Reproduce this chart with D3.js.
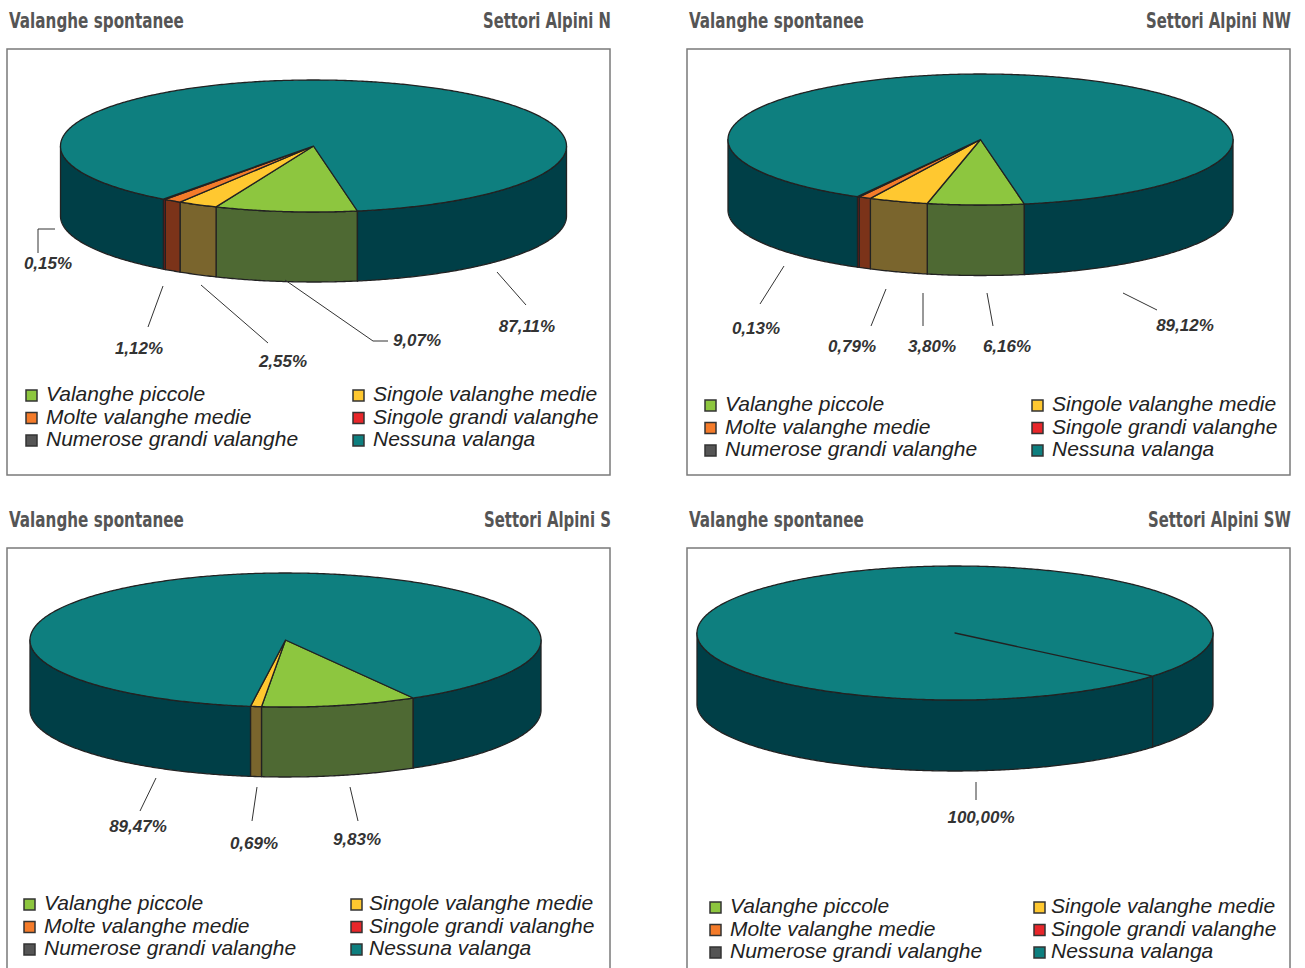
<!DOCTYPE html>
<html>
<head>
<meta charset="utf-8">
<script src="https://cdn.jsdelivr.net/npm/d3@7"></script>
<style>
  body { margin: 0; background: #fff; }
  svg { display: block; }
</style>
</head>
<body>
<svg id="chart"></svg>
<script>
// categories in the legend order of the original (row-major, 2 columns)
const categories = [
  "Valanghe piccole",
  "Singole valanghe medie",
  "Molte valanghe medie",
  "Singole grandi valanghe",
  "Numerose grandi valanghe",
  "Nessuna valanga",
];
const sectors = ["Settori Alpini N", "Settori Alpini NW", "Settori Alpini S", "Settori Alpini SW"];
const mainTitle = "Valanghe spontanee";

// percentages per sector, same order as categories
const valuesN = [9.07, 2.55, 1.12, 0.15, 0, 87.11];
const valuesNW = [6.16, 3.8, 0.79, 0.13, 0, 89.12];
const valuesS = [9.83, 0.69, 0, 0, 0, 89.47];
const valuesSW = [0, 0, 0, 0, 0, 100];

const topColors = ["#8dc63f", "#ffc830", "#f47b2a", "#e8262a", "#555555", "#0e7f7f"];
const sideColors = ["#4e6933", "#7a652d", "#7b3319", "#7a1a17", "#333333", "#003f47"];

const W = 1305, H = 968;
const svg = d3.select("#chart").attr("width", W).attr("height", H);
svg.append("rect").attr("width", W).attr("height", H).attr("fill", "#fff");

// layout of every panel (positions relative to the panel box)
const panels = [
  {
    values: valuesN, x: 7, y: 49, h: 426, titleW: 128,
    pie: { cx: 306.5, cy: 97, rx: 253, ry: 66, depth: 70, start: 170 },
    legend: { sx: [19, 346], tx: [39, 366], rows: [352, 374.5, 397] },
    labels: [
      { cat: 3, pts: [[48, 180], [31, 180], [31, 204]], tx: 41, ty: 220 },
      { cat: 2, pts: [[156, 237], [141, 278]], tx: 132, ty: 305 },
      { cat: 1, pts: [[194, 236], [261, 294]], tx: 276, ty: 318 },
      { cat: 0, pts: [[278, 231], [366, 292], [381, 292]], tx: 410, ty: 297 },
      { cat: 5, pts: [[490, 223], [519, 256]], tx: 520, ty: 283 },
    ],
  },
  {
    values: valuesNW, x: 687, y: 49, h: 426, titleW: 145,
    pie: { cx: 293.5, cy: 90.5, rx: 252.5, ry: 65.5, depth: 70.5, start: 170 },
    legend: { sx: [18, 345], tx: [38, 365], rows: [362, 384.5, 407] },
    labels: [
      { cat: 3, pts: [[97, 217], [73, 255]], tx: 69, ty: 285 },
      { cat: 2, pts: [[199, 240], [184, 277]], tx: 165, ty: 303 },
      { cat: 1, pts: [[236, 244], [236, 277]], tx: 245, ty: 303 },
      { cat: 0, pts: [[300, 244], [306, 277]], tx: 320, ty: 303 },
      { cat: 5, pts: [[436, 244], [470, 261]], tx: 498, ty: 282 },
    ],
  },
  {
    values: valuesS, x: 7, y: 548, h: 430, titleW: 127,
    pie: { cx: 278.5, cy: 92, rx: 255.5, ry: 67, depth: 70, start: 150 },
    legend: { sx: [17, 344], tx: [37, 362], rows: [362, 384.5, 407] },
    labels: [
      { cat: 5, pts: [[149, 230], [133, 263]], tx: 131, ty: 284 },
      { cat: 1, pts: [[250, 239], [245, 273]], tx: 247, ty: 301 },
      { cat: 0, pts: [[343, 239], [351, 273]], tx: 350, ty: 297 },
    ],
  },
  {
    values: valuesSW, x: 687, y: 548, h: 430, titleW: 143,
    pie: { cx: 268, cy: 85, rx: 258, ry: 67, depth: 71, start: 130 },
    legend: { sx: [23, 347], tx: [43, 364], rows: [365, 387.5, 410] },
    labels: [
      { cat: 5, pts: [[289, 234], [289, 252]], tx: 294, ty: 275 },
    ],
  },
];

const fmt = (v) => d3.format(".2f")(v).replace(".", ",") + "%";
const line = d3.line();
const rad = Math.PI / 180;
const headFont = "'DejaVu Sans Condensed', 'DejaVu Sans', sans-serif";

// condensed heading: measured, then squeezed horizontally to the wanted width
function heading(x, y, str, width, anchorEnd) {
  const t = svg.append("text")
    .attr("font-family", headFont).style("font-stretch", "condensed")
    .attr("font-weight", "bold").attr("font-size", 22)
    .attr("fill", "#555").text(str);
  const len = t.node().getComputedTextLength();
  const sx = width / len;
  const left = anchorEnd ? x - width : x;
  t.attr("transform", `translate(${left},${y}) scale(${sx},1)`);
}

panels.forEach((p, i) => {
  heading(p.x + 2, p.y - 21, mainTitle, 175, false);
  heading(p.x + 604, p.y - 21, sectors[i], p.titleW, true);

  const g = svg.append("g").attr("transform", `translate(${p.x},${p.y})`);
  g.append("rect")
    .attr("width", 603).attr("height", p.h)
    .attr("fill", "none").attr("stroke", "#7a7a7a").attr("stroke-width", 1.5);

  // 3D pie
  const c = p.pie;
  const a0 = c.start * rad;
  const arcs = d3.pie().sort(null).startAngle(a0).endAngle(a0 + 2 * Math.PI)(p.values)
    .map((d, k) => ({ ...d, k }))
    .filter((d) => d.value > 0);
  const pt = (a, dy = 0) => [c.cx + c.rx * Math.sin(a), c.cy - c.ry * Math.cos(a) + dy];
  const ring = (b0, b1, dy) => {
    const n = Math.max(2, Math.ceil((b1 - b0) / (0.5 * rad)) + 1);
    return d3.range(n).map((j) => pt(b0 + ((b1 - b0) * j) / (n - 1), dy));
  };

  // front walls: visible part of each slice where the rim faces the viewer
  const walls = [];
  arcs.forEach((d) => {
    [0, 1, -1].forEach((m) => {
      const lo = Math.PI / 2 + m * 2 * Math.PI, hi = 1.5 * Math.PI + m * 2 * Math.PI;
      const b0 = Math.max(d.startAngle, lo), b1 = Math.min(d.endAngle, hi);
      if (b1 > b0) walls.push({ k: d.k, b0, b1 });
    });
  });
  g.selectAll("path.wall").data(walls).enter().append("path")
    .attr("class", "wall")
    .attr("d", (w) => line(ring(w.b0, w.b1, 0).concat(ring(w.b0, w.b1, c.depth).reverse())) + "Z")
    .attr("fill", (w) => sideColors[w.k])
    .attr("stroke", "#222").attr("stroke-width", 1.3).attr("stroke-linejoin", "round");

  g.selectAll("path.slice").data(arcs).enter().append("path")
    .attr("class", "slice")
    .attr("d", (d) => line([[c.cx, c.cy]].concat(ring(d.startAngle, d.endAngle, 0))) + "Z")
    .attr("fill", (d) => topColors[d.k])
    .attr("stroke", "#222").attr("stroke-width", 1.3).attr("stroke-linejoin", "round");

  // leader lines and percentage labels
  p.labels.forEach((l) => {
    g.append("path").attr("d", line(l.pts))
      .attr("fill", "none").attr("stroke", "#333").attr("stroke-width", 1);
    g.append("text")
      .attr("x", l.tx).attr("y", l.ty).attr("text-anchor", "middle")
      .attr("font-family", "Liberation Sans, Arial, sans-serif")
      .attr("font-weight", "bold").attr("font-style", "italic").attr("font-size", 17)
      .attr("fill", "#333").text(fmt(p.values[l.cat]));
  });

  // legend, two columns row by row
  const lg = g.append("g").selectAll("g").data(categories).enter().append("g");
  lg.append("rect")
    .attr("x", (d, k) => p.legend.sx[k % 2])
    .attr("y", (d, k) => p.legend.rows[Math.floor(k / 2)] - 11)
    .attr("width", 11).attr("height", 11)
    .attr("fill", (d, k) => topColors[k])
    .attr("stroke", "#333").attr("stroke-width", 1.5);
  lg.append("text")
    .attr("x", (d, k) => p.legend.tx[k % 2])
    .attr("y", (d, k) => p.legend.rows[Math.floor(k / 2)])
    .attr("font-family", "Liberation Sans, Arial, sans-serif")
    .attr("font-style", "italic").attr("font-size", 21)
    .attr("fill", "#222").text((d) => d);
});
</script>
</body>
</html>
